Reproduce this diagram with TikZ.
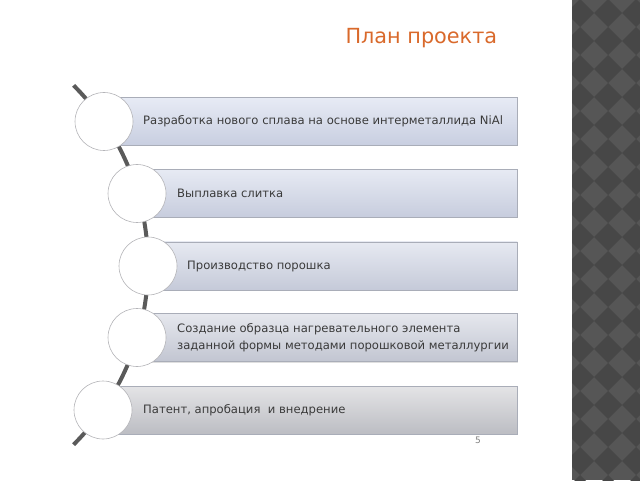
\documentclass[tikz,border=0pt]{standalone}
\usepackage{fontspec}
\setmainfont{DejaVu Sans}
\usetikzlibrary{shadows}
\definecolor{spinec}{HTML}{5A5A5A}
\definecolor{ringedge}{HTML}{B4B4B8}
\definecolor{boxedge}{HTML}{A9ADB8}
\definecolor{topblue}{HTML}{E7EBF5}
\definecolor{botblue}{HTML}{C8CEE0}
\definecolor{topgrey}{HTML}{E4E4E6}
\definecolor{botgrey}{HTML}{BCBDC3}
\definecolor{steptextc}{HTML}{3A3A3A}
\definecolor{titlec}{HTML}{D9692B}
\definecolor{stripl}{HTML}{565656}
\definecolor{stripd}{HTML}{474747}
\tikzset{stepbox/.style={rectangle, anchor=west, draw=boxedge, line width=0.5pt,
   minimum height=48pt, inner sep=0pt,
   top color=topblue!#1!topgrey, bottom color=botblue!#1!botgrey,
   drop shadow={shadow xshift=1pt, shadow yshift=-1pt, opacity=0.25}}}
\tikzset{ring/.style={circle, draw=ringedge, line width=0.6pt, fill=white,
   minimum size=58pt, inner sep=0pt}}
\tikzset{steptext/.style={anchor=west, inner sep=0pt, align=left,
   text=steptextc, font=\fontsize{11.6}{17}\selectfont}}
\tikzset{spine/.style={draw=spinec, line width=4pt}}

\begin{document}
\begin{tikzpicture}[x=1pt,y=1pt]

    \useasboundingbox (0,0) rectangle (640,480);

    % patterned strip on the right
    \begin{scope}
      \clip (572,0) rectangle (640,480);
      \fill[stripl] (572,0) rectangle (640,480);
      \foreach \i in {-1,...,3}
        \foreach \j in {-1,...,18}
          \fill[stripd] (580+28*\i,467-28*\j) ++(14,0) -- ++(-14,14) -- ++(-14,-14) -- ++(14,-14) -- cycle;
    \end{scope}

    \node[anchor=base west, text=titlec, font=\fontsize{20.8}{24}\selectfont] (title) at (342,436) {План проекта};

    \coordinate (top) at (73.6,394.6);
    \draw[spine] (top) arc[start angle=45, end angle=-45, radius=254] coordinate (bottom);

    \node[stepbox=100, minimum width=413pt] (b1) at (104,358.5) {};
    \node[stepbox=90,  minimum width=380pt] (b2) at (137,286.5) {};
    \node[stepbox=75,  minimum width=369pt] (b3) at (148,214) {};
    \node[stepbox=50,  minimum width=380pt] (b4) at (137,142.5) {};
    \node[stepbox=0,   minimum width=414pt] (b5) at (103,70) {};

    \node[ring] (c1) at (104,358.5) {};
    \node[ring] (c2) at (137,286.5) {};
    \node[ring] (c3) at (148,214) {};
    \node[ring] (c4) at (137,142.5) {};
    \node[ring] (c5) at (103,70) {};

    \node[steptext] (t1) at (143,358.5) {Разработка нового сплава на основе интерметаллида NiAl};
    \node[steptext] (t2) at (177,286.5) {Выплавка слитка};
    \node[steptext] (t3) at (187,214) {Производство порошка};
    \node[steptext] (t4) at (177,142.5) {Создание образца нагревательного элемента\\заданной формы методами порошковой металлургии};
    \node[steptext] (t5) at (143,70) {Патент, апробация\ \ и внедрение};

    \node[text=gray, font=\fontsize{9}{11}\selectfont] (num) at (478,40) {5};

\end{tikzpicture}
\end{document}
